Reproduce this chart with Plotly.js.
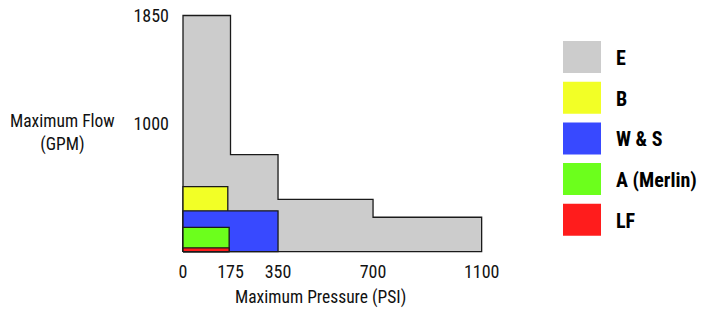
<!DOCTYPE html>
<html>
<head>
<meta charset="utf-8">
<script src="https://cdn.plot.ly/plotly-3.0.1.min.js"></script>
<style>html,body{margin:0;padding:0;background:#fff;}#chart{width:701px;height:311px;}</style>
</head>
<body>
<div id="chart"></div>
<script>
// ---- data ----
const pressureTicks = [0, 175, 350, 700, 1100];
const flowTicks = [1000, 1850];
const seriesNames = ['E', 'B', 'W & S', 'A (Merlin)', 'LF'];
// E envelope: max flow (GPM) up to each max pressure (PSI)
const ePressure = [175, 350, 700, 1100];
const eFlow = [1850, 760, 410, 270];
// B, W & S, A (Merlin), LF: max pressure and max flow
const boxPressure = [165, 350, 170, 170];
const boxFlow = [510, 320, 190, 30];

// ---- styles ----
const colors = ['#cccccc', '#f2ff26', '#3849ff', '#6cff1c', '#ff1c1c'];
const edge = '#1a1a1a';
const FONT = '"Roboto Condensed", Roboto, sans-serif';

const W = 701, H = 311;
const M = {l: 170, r: 201, t: 5, b: 56};
const pw = W - M.l - M.r, ph = H - M.t - M.b;
const px = x => (x - M.l) / pw;          // pixel -> paper x
const py = y => 1 - (y - M.t) / ph;      // pixel -> paper y

// E polygon
const ex = [0], ey = [0];
let prev = 0;
ePressure.forEach((p, i) => { ex.push(prev, p); ey.push(eFlow[i], eFlow[i]); prev = p; });
ex.push(prev, 0); ey.push(0, 0);

const traces = [{
  x: ex, y: ey, type: 'scatter', mode: 'lines', fill: 'toself',
  fillcolor: colors[0], line: {color: edge, width: 1.3}, hoverinfo: 'skip', showlegend: false
}];
boxPressure.forEach((p, i) => {
  traces.push({
    x: [0, 0, p, p, 0], y: [0, boxFlow[i], boxFlow[i], 0, 0],
    type: 'scatter', mode: 'lines', fill: 'toself',
    fillcolor: colors[i + 1], line: {color: edge, width: 1.3},
    hoverinfo: 'skip', showlegend: false
  });
});

// legend (drawn manually to match swatch size)
const shapes = [], annotations = [];
seriesNames.forEach((n, i) => {
  const top = 41 + i * 40.7;
  shapes.push({type: 'rect', xref: 'paper', yref: 'paper',
    x0: px(563), x1: px(601), y0: py(top), y1: py(top + 32),
    fillcolor: colors[i], line: {width: 0}});
  annotations.push({xref: 'paper', yref: 'paper', x: px(614), y: py(top + 17),
    xanchor: 'left', yanchor: 'middle', showarrow: false, text: '<b>' + n + '</b>',
    font: {family: FONT, size: 20, color: '#000'}});
});
annotations.push({xref: 'paper', yref: 'paper', x: px(62), y: py(133),
  xanchor: 'center', yanchor: 'middle', showarrow: false, align: 'center',
  text: 'Maximum Flow<br>(GPM)', font: {family: FONT, size: 17.5, color: '#111'}});
annotations.push({xref: 'paper', yref: 'paper', x: px(320), y: py(297),
  xanchor: 'center', yanchor: 'middle', showarrow: false,
  text: 'Maximum Pressure (PSI)', font: {family: FONT, size: 17.5, color: '#111'}});

const xmin = (M.l - 183) / 0.2715, xmax = (W - M.r - 183) / 0.2715;
const ymax = (251.7 - M.t) / 0.12768, ymin = (251.7 - (H - M.b)) / 0.12768;

const layout = {
  width: W, height: H, margin: M, paper_bgcolor: '#fff', plot_bgcolor: '#fff',
  font: {family: FONT, size: 18, color: '#111'},
  xaxis: {range: [xmin, xmax], tickvals: pressureTicks, ticktext: pressureTicks.map(String),
    showgrid: false, zeroline: false, showline: false, ticks: '', fixedrange: true,
    ticklabelstandoff: 4},
  yaxis: {range: [ymin, ymax], tickvals: flowTicks, ticktext: flowTicks.map(String),
    showgrid: false, zeroline: false, showline: false, ticks: '', fixedrange: true},
  shapes: shapes, annotations: annotations, showlegend: false
};
Plotly.newPlot('chart', traces, layout, {displayModeBar: false, staticPlot: true});
</script>
</body>
</html>
